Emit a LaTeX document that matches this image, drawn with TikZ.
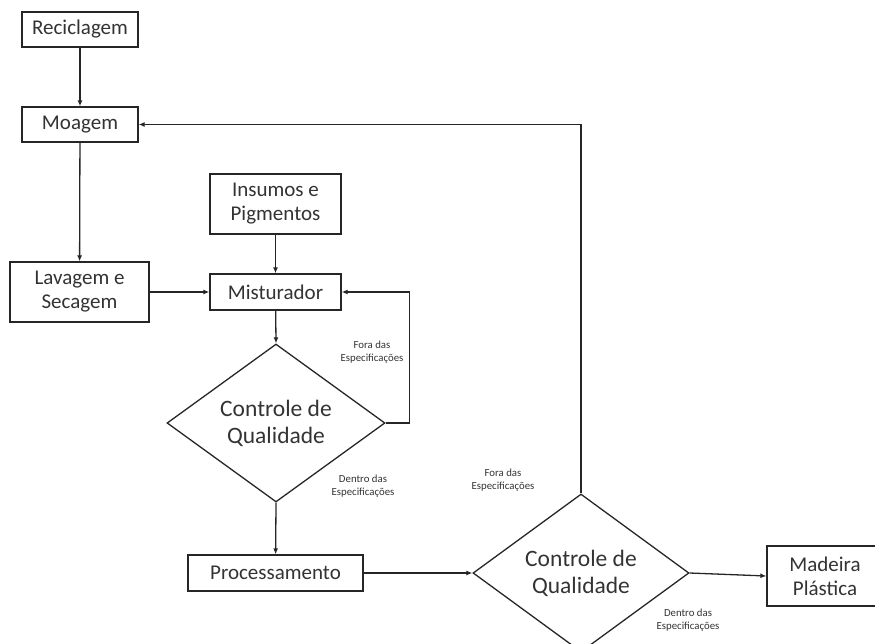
\documentclass[tikz,border=0pt]{standalone}
\usepackage{fontspec}
\setmainfont{Carlito}
\usepackage{tikz}
\usetikzlibrary{shapes.geometric,arrows.meta}
\colorlet{line_col}{black!85}
\colorlet{text_col}{black!80}
\tikzset{
    flow/.style={-{Latex[length=6pt,width=5pt]},line width=1.3pt,line_col},
    box/.style={draw=line_col,line width=1.3pt,rectangle,inner sep=0pt,align=center,text=text_col,
        font=\fontsize{21}{24}\selectfont},
    decision/.style={draw=line_col,line width=1.3pt,diamond,inner sep=0pt,align=center,text=text_col,
        font=\fontsize{23.5}{27}\selectfont},
    note/.style={inner sep=0pt,align=center,text=text_col,font=\fontsize{10.8}{13}\selectfont},
}
\begin{document}
\begin{tikzpicture}[x=1pt,y=-1pt]
  \useasboundingbox (0,0) rectangle (875,644);
  \clip (0,0) rectangle (875,644);
  % Process boxes
  \node[box,minimum width=116pt,minimum height=35pt] (rec) at (80,29.5) {Reciclagem};
  \node[box,minimum width=116pt,minimum height=35pt] (moa) at (80,124.5) {Moagem};
  \node[box,minimum width=139pt,minimum height=60pt] (lav) at (79.5,292) {Lavagem e\\Secagem};
  \node[box,minimum width=131pt,minimum height=60pt] (ins) at (275.5,204) {Insumos e\\Pigmentos};
  \node[box,minimum width=131pt,minimum height=36pt] (mis) at (275.5,292) {Misturador};
  \node[box,minimum width=175pt,minimum height=36pt] (pro) at (275.5,573) {Processamento};
  \node[box,minimum width=116pt,minimum height=60pt] (mad) at (825,576) {Madeira\\Plástica};
  % Quality checks
  \node[decision,minimum width=218pt,minimum height=145pt] (cq1) at (276,423) {Controle de\\Qualidade};
  \node[decision,minimum width=216pt,minimum height=144pt] (cq2) at (581,573) {Controle de\\Qualidade};
  % Main flow
  \draw[flow] (rec) -- (moa);
  \draw[flow] (moa) -- (lav);
  \draw[flow] (ins) -- (mis);
  \draw[flow] (lav) -- (mis);
  \draw[flow] (mis) -- (cq1.north);
  \draw[flow] (cq1.south) -- (pro);
  \draw[flow] (pro) -- (cq2.west);
  \draw[flow] (cq2.east) -- (mad.west);
  % Feedback loops
  \draw[flow] (cq1.east) -- ++(24,0) |- (mis.east);
  \draw[flow] (cq2.north) |- (moa.east);
  % Branch labels
  \node[note] (fora1) at (372,352) {Fora das\\Especificações};
  \node[note] (dentro1) at (363,486) {Dentro das\\Especificações};
  \node[note] (fora2) at (503,480) {Fora das\\Especificações};
  \node[note] (dentro2) at (688,620) {Dentro das\\Especificações};
\end{tikzpicture}
\end{document}
